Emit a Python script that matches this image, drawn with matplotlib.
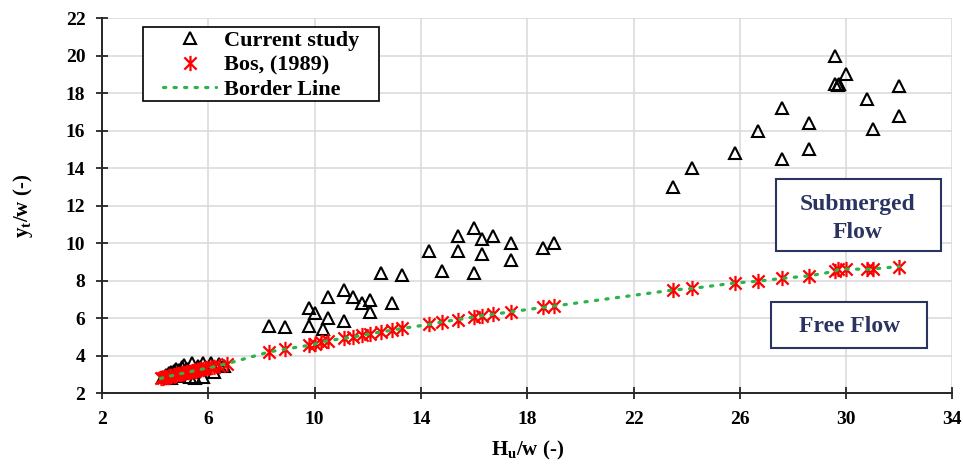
import numpy as np
import matplotlib.pyplot as plt
from matplotlib.path import Path
from matplotlib.patches import Rectangle

plt.rcParams['font.family'] = ['Liberation Serif', 'DejaVu Serif']
plt.rcParams['font.weight'] = 'bold'
plt.rcParams['mathtext.fontset'] = 'custom'
plt.rcParams['mathtext.rm'] = 'Liberation Serif:bold'
plt.rcParams['mathtext.bf'] = 'Liberation Serif:bold'

# Current study (Hu/w, yt/w)
cur_x = [4.3, 4.4, 4.5, 4.6, 4.6, 4.7, 4.8, 4.9, 4.9, 5.0, 5.1, 5.2, 5.3, 5.4, 5.5, 5.6,
         5.8, 5.8, 6.1, 6.2, 6.4, 6.6,
         8.3, 8.9, 9.8, 10.0, 9.8, 10.3, 10.5, 10.5, 11.1, 11.1, 11.45, 11.8, 12.1, 12.1, 12.9,
         12.5, 13.3, 14.3, 14.8, 15.4, 15.4, 16.0, 16.3, 16.7, 16.3, 16.0, 17.4, 17.4, 18.6, 19.0,
         23.5, 24.2, 25.8, 26.7, 27.6, 27.6, 28.6, 28.6, 29.6, 29.6, 29.7, 29.75, 30.0, 30.8,
         31.0, 32.0, 32.0]
cur_y = [2.85, 2.95, 3.05, 2.8, 3.1, 3.2, 3.3, 2.9, 3.25, 3.4, 3.5, 3.3, 2.85, 3.6, 2.8, 3.45,
         3.6, 2.85, 3.6, 3.1, 3.55, 3.45,
         5.6, 5.5, 6.55, 6.25, 5.6, 5.4, 7.1, 6.0, 7.5, 5.85, 7.1, 6.8, 6.95, 6.35, 6.8,
         8.4, 8.3, 9.6, 8.5, 10.4, 9.6, 10.8, 10.2, 10.4, 9.4, 8.4, 10.0, 9.1, 9.75, 10.0,
         13.0, 14.0, 14.8, 16.0, 17.2, 14.5, 16.4, 15.0, 20.0, 18.5, 18.45, 18.5, 19.0, 17.7,
         16.1, 18.4, 16.8]

# Bos (1989)
bos_x = [4.2, 4.3, 4.35, 4.4, 4.5, 4.55, 4.6, 4.7, 4.75, 4.8, 4.9, 5.0, 5.05, 5.1, 5.2, 5.3,
         5.4, 5.5, 5.6, 5.7, 5.8, 5.9, 6.1, 6.2, 6.4, 6.7,
         8.3, 8.9, 9.8, 10.0, 10.25, 10.5, 11.1, 11.45, 11.8, 12.1, 12.5, 12.9, 13.3, 14.3,
         14.8, 15.4, 16.0, 16.3, 16.7, 17.4, 18.6, 19.0, 23.5, 24.2, 25.8, 26.7, 27.6, 28.6,
         29.6, 29.7, 30.0, 30.8, 31.0, 32.0]
bos_y = [2.78, 2.82, 2.86, 2.85, 2.88, 2.92, 2.92, 2.95, 2.99, 2.98, 3.02, 3.05, 3.06, 3.08,
         3.1, 3.14, 3.17, 3.2, 3.23, 3.26, 3.29, 3.32, 3.37, 3.4, 3.47, 3.57,
         4.2, 4.35, 4.55, 4.61, 4.72, 4.8, 4.92, 5.0, 5.08, 5.17, 5.26, 5.35, 5.45, 5.66,
         5.8, 5.92, 6.06, 6.13, 6.2, 6.34, 6.57, 6.64, 7.5, 7.58, 7.87, 7.97, 8.12, 8.25,
         8.5, 8.6, 8.62, 8.6, 8.62, 8.75]

xticks = [2, 6, 10, 14, 18, 22, 26, 30, 34]
yticks = [2, 4, 6, 8, 10, 12, 14, 16, 18, 20, 22]

# excel-like star marker: X with a vertical bar
star = Path([(-1, -1), (1, 1), (-1, 1), (1, -1), (0, -1.25), (0, 1.25)],
            [Path.MOVETO, Path.LINETO, Path.MOVETO, Path.LINETO, Path.MOVETO, Path.LINETO])

fig = plt.figure(figsize=(9.63, 4.68), dpi=100)
ax = fig.add_axes([0.106, 0.160, 0.883, 0.8015])

ax.plot(cur_x, cur_y, linestyle='none', marker='^', ms=9, mfc='none', mec='black',
        mew=1.5, label='Current study', zorder=3)
ax.plot(bos_x, bos_y, linestyle='none', marker=star, ms=11, mfc='none', mec='red',
        mew=1.6, label='Bos, (1989)', zorder=4)
order = np.argsort(bos_x, kind='stable')
ax.plot(np.array(bos_x)[order], np.array(bos_y)[order], color='#2CB34A', lw=2.3,
        linestyle=(0, (0.7, 2.6)), dash_capstyle='round', label='Border Line', zorder=5)

ax.set_xlim(2, 34)
ax.set_ylim(2, 22)
ax.set_xticks(xticks)
ax.set_yticks(yticks)
ax.grid(True, color='#D9D9D9', lw=1.1)
ax.set_axisbelow(True)
for s in ['top', 'right']:
    ax.spines[s].set_visible(False)
for s in ['left', 'bottom']:
    ax.spines[s].set_linewidth(1.4)
    ax.spines[s].set_color('#262626')
ax.tick_params(direction='inout', length=8, width=1.3, color='#262626', labelsize=14)
ax.tick_params(axis='x', pad=9)
ax.tick_params(axis='y', pad=8)
for lab in ax.get_xticklabels() + ax.get_yticklabels():
    lab.set_fontweight('bold')

ax.set_xlabel(r'H$_\mathbf{u}$/w (-)', fontsize=15, fontweight='bold', labelpad=8)
ax.set_ylabel(r'y$_\mathbf{t}$/w (-)', fontsize=15, fontweight='bold', labelpad=22)

# legend without its own frame, frame drawn separately like the excel one
leg = ax.legend(loc='upper left', bbox_to_anchor=(0.0718, 0.967), borderaxespad=0,
                frameon=False, fontsize=16, handlelength=2.4, handletextpad=0.35,
                borderpad=0, labelspacing=0.18)
for t in leg.get_texts():
    t.set_fontweight('bold')
leg.set_zorder(8)
ax.add_patch(Rectangle((0.0482, 0.7787), 0.2776, 0.1973, transform=ax.transAxes,
                       facecolor='white', edgecolor='black', lw=1.2, zorder=7))

navy = '#2B3361'
ax.add_patch(Rectangle((0.792, 0.379), 0.195, 0.192, transform=ax.transAxes, fill=True,
                       facecolor='white', edgecolor=navy, lw=1.5, zorder=6))
ax.text(0.889, 0.466, 'Submerged\nFlow', transform=ax.transAxes, ha='center', va='center',
        fontsize=17, fontweight='bold', color=navy, linespacing=1.42, zorder=7)
ax.add_patch(Rectangle((0.787, 0.12), 0.1835, 0.1227, transform=ax.transAxes, fill=True,
                       facecolor='white', edgecolor=navy, lw=1.5, zorder=6))
ax.text(0.879, 0.178, 'Free Flow', transform=ax.transAxes, ha='center', va='center',
        fontsize=17, fontweight='bold', color=navy, zorder=7)

fig.savefig('out.png', dpi=100)
